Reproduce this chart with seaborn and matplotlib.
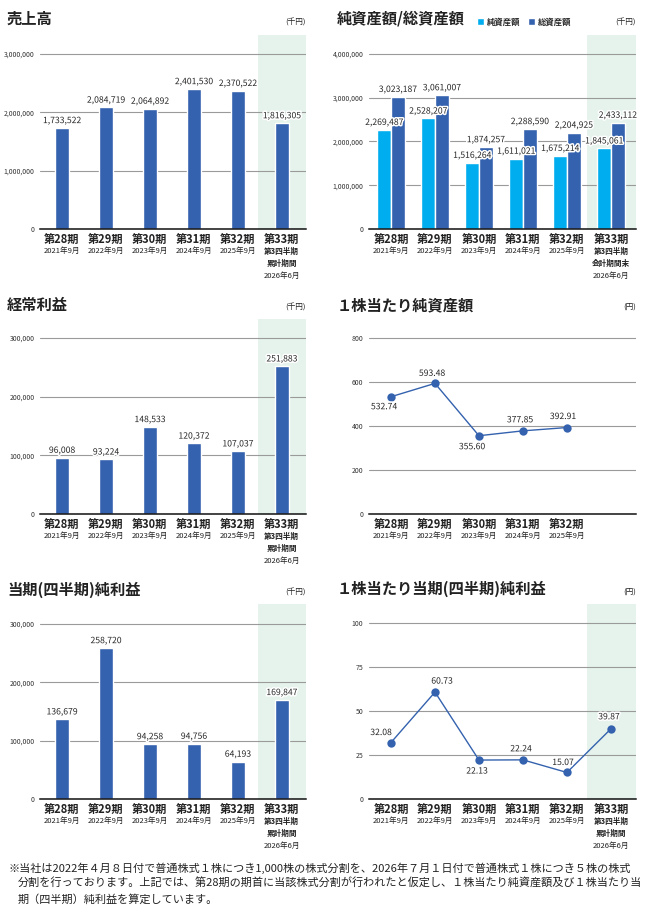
import numpy as np
import pandas as pd
import matplotlib
matplotlib.use('Agg')
import matplotlib.pyplot as plt
import matplotlib.patheffects as pe
from matplotlib.ticker import FuncFormatter
import seaborn as sns

# data
periods = ['第28期', '第29期', '第30期', '第31期', '第32期', '第33期']
dates = ['2021年9月', '2022年9月', '2023年9月', '2024年9月', '2025年9月', '2026年6月']
note_cum = ['第3四半期', '累計期間']
note_end = ['第3四半期', '会計期間末']

sales = [1733522, 2084719, 2064892, 2401530, 2370522, 1816305]
net_assets = [2269487, 2528207, 1516264, 1611021, 1675214, 1845061]
total_assets = [3023187, 3061007, 1874257, 2288590, 2204925, 2433112]
ordinary_profit = [96008, 93224, 148533, 120372, 107037, 251883]
bps = [532.74, 593.48, 355.60, 377.85, 392.91]
net_income = [136679, 258720, 94258, 94756, 64193, 169847]
eps = [32.08, 60.73, 22.13, 22.24, 15.07, 39.87]

footnote = [
    '※当社は2022年４月８日付で普通株式１株につき1,000株の株式分割を、2026年７月１日付で普通株式１株につき５株の株式',
    '分割を行っております。上記では、第28期の期首に当該株式分割が行われたと仮定し、１株当たり純資産額及び１株当たり当',
    '期（四半期）純利益を算定しています。',
]

BLUE = '#3462ae'
CYAN = '#00aeef'
GREEN = '#e6f3ec'
GRID = '#9a9a9a'

sns.set_style('white')
plt.rcParams['font.family'] = ['Noto Sans CJK JP', 'DejaVu Sans']

W, H = 647, 916
fig = plt.figure(figsize=(W / 100, H / 100), dpi=100)

halo = [pe.withStroke(linewidth=2.2, foreground='white')]


def make_ax(x0, x1, top, base):
    return fig.add_axes([x0 / W, 1 - base / H, (x1 - x0) / W, (base - top) / H])


def style_ax(ax, ymax, ticks, xmax, band=True):
    ax.set_ylim(0, ymax)
    ax.set_xlim(-0.5, xmax)
    ax.set_yticks(ticks)
    ax.yaxis.set_major_formatter(FuncFormatter(lambda v, p: f'{int(v):,}'))
    ax.tick_params(axis='y', length=0, pad=4, labelsize=5, labelcolor='#333333')
    ax.set_xticks([])
    ax.set_xlabel('')
    ax.set_ylabel('')
    for s in ['top', 'right', 'left']:
        ax.spines[s].set_visible(False)
    ax.spines['bottom'].set_color('#111111')
    ax.spines['bottom'].set_linewidth(1.1)
    ax.grid(axis='y', color=GRID, linewidth=0.8)
    ax.grid(axis='x', visible=False)
    ax.set_axisbelow(True)
    if band:
        ax.axvspan(4.45, xmax, color=GREEN, zorder=0, lw=0)


def cat_labels(ax, n, last_lines):
    for i in range(n):
        ax.annotate(periods[i], xy=(i, 0), xycoords=('data', 'axes fraction'),
                    xytext=(0, -10), textcoords='offset pixels', ha='center', va='center',
                    fontsize=8, fontweight='bold', color='#222222')
        lines = [dates[i]] if i < 5 else last_lines + [dates[i]]
        for j, t in enumerate(lines):
            bold = i == 5 and j < len(lines) - 1
            ax.annotate(t, xy=(i, 0), xycoords=('data', 'axes fraction'),
                        xytext=(0, -22 - 12.5 * j), textcoords='offset pixels',
                        ha='center', va='center', fontsize=5.5,
                        fontweight='bold' if bold else 'normal', color='#222222')


def bar_chart(ax, values, ymax, ticks, xmax):
    df = pd.DataFrame({'period': periods, 'value': values})
    sns.barplot(data=df, x='period', y='value', color=BLUE, saturation=1,
                width=0.32, errorbar=None, ax=ax)
    for c in ax.containers:
        texts = ax.bar_label(c, labels=[f'{v:,}' for v in values], padding=2, fontsize=6.2)
        for t in texts:
            t.set_path_effects(halo)
    style_ax(ax, ymax, ticks, xmax)
    cat_labels(ax, 6, note_cum)


def line_chart(ax, values, offsets, ymax, ticks, xmax, band):
    x = np.arange(len(values))
    sns.lineplot(x=x, y=values, color=BLUE, linewidth=1, marker='o', markersize=6,
                 markeredgewidth=0, ax=ax)
    for xi, v, off in zip(x, values, offsets):
        t = ax.annotate(f'{v:.2f}', xy=(xi, v), xytext=off, textcoords='offset pixels',
                        ha='center', va='center', fontsize=6.2)
        t.set_path_effects(halo)
    style_ax(ax, ymax, ticks, xmax, band)


LX0, LX1 = 40, 306
RX0, RX1 = 369, 636
LXMAX, RXMAX = 5.55, 5.57
ROWS = [(35, 229), (319, 514), (604, 799)]

# 売上高
ax1 = make_ax(LX0, LX1, *ROWS[0])
bar_chart(ax1, sales, 3326000, [0, 1000000, 2000000, 3000000], LXMAX)

# 純資産額/総資産額
ax2 = make_ax(RX0, RX1, *ROWS[0])
df2 = pd.DataFrame({'period': periods * 2,
                    'value': net_assets + total_assets,
                    'kind': ['純資産額'] * 6 + ['総資産額'] * 6})
sns.barplot(data=df2, x='period', y='value', hue='kind', palette=[CYAN, BLUE],
            saturation=1, width=0.62, errorbar=None, ax=ax2)
for c, vals in zip(ax2.containers, [net_assets, total_assets]):
    texts = ax2.bar_label(c, labels=[f'{v:,}' for v in vals], padding=2, fontsize=6.2)
    for t in texts:
        t.set_path_effects(halo)
style_ax(ax2, 4434000, [0, 1000000, 2000000, 3000000, 4000000], RXMAX)
cat_labels(ax2, 6, note_end)
ax2.legend(loc='center left', bbox_to_anchor=(477 / W, 1 - 22 / H),
           bbox_transform=fig.transFigure, ncol=2, frameon=False,
           prop={'size': 6, 'weight': 'bold'}, handlelength=0.8, handleheight=0.8,
           handletextpad=0.4, columnspacing=0.9, borderpad=0, borderaxespad=0)

# 経常利益
ax3 = make_ax(LX0, LX1, *ROWS[1])
bar_chart(ax3, ordinary_profit, 332400, [0, 100000, 200000, 300000], LXMAX)

# 1株当たり純資産額
ax4 = make_ax(RX0, RX1, *ROWS[1])
bps_off = [(-7, -10), (-3, 10), (-7, -11), (-3, 11), (-4, 11)]
line_chart(ax4, bps, bps_off, 886, [0, 200, 400, 600, 800], RXMAX, band=False)
cat_labels(ax4, 5, note_cum)

# 当期(四半期)純利益
ax5 = make_ax(LX0, LX1, *ROWS[2])
bar_chart(ax5, net_income, 334000, [0, 100000, 200000, 300000], LXMAX)

# 1株当たり当期(四半期)純利益
ax6 = make_ax(RX0, RX1, *ROWS[2])
eps_off = [(-10, 10), (7, 11), (-2, -11), (-2, 11), (-4, 10), (-2, 12)]
line_chart(ax6, eps, eps_off, 110.8, [0, 25, 50, 75, 100], RXMAX, band=True)
cat_labels(ax6, 6, note_cum)

# titles and units
titles = [
    ('売上高', 7, 19, '(千円)', 306, 23),
    ('純資産額/総資産額', 337, 19, '(千円)', 636, 23),
    ('経常利益', 7, 305, '(千円)', 306, 308),
    ('１株当たり純資産額', 337, 305, '(円)', 636, 308),
    ('当期(四半期)純利益', 7, 590, '(千円)', 306, 593),
    ('１株当たり当期(四半期)純利益', 337, 589, '(円)', 636, 593),
]
for t, tx, ty, u, ux, uy in titles:
    fig.text(tx / W, 1 - ty / H, t, fontsize=11, fontweight='bold', color='#222222',
             ha='left', va='center')
    fig.text(ux / W, 1 - uy / H, u, fontsize=5.5, color='#222222', ha='right', va='center')

for k, line in enumerate(footnote):
    fig.text((8 if k == 0 else 18) / W, 1 - (868 + 15.5 * k) / H, line, fontsize=8,
             color='#222222', ha='left', va='center')

fig.savefig('out.png', dpi=100)
